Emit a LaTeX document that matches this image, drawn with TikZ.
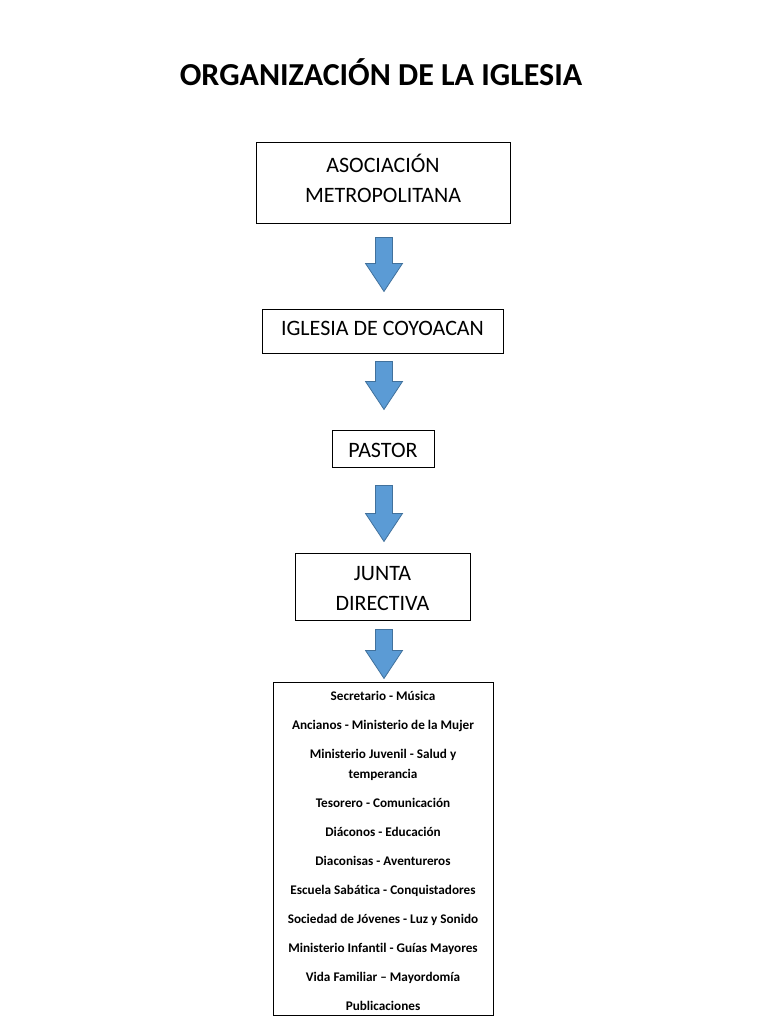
\documentclass[tikz,border=0pt]{standalone}
\usepackage{fontspec}
\setmainfont{Carlito}[Ligatures={TeX,NoCommon}]
\usetikzlibrary{calc}
\definecolor{arrowfill}{HTML}{5B9BD5}
\definecolor{arrowborder}{HTML}{41719C}
\tikzset{
  basic/.style = {draw, rectangle, line width=0.9pt, align=center, inner sep=0pt},
  bigbox/.style = {basic, font=\fontsize{22}{30}\selectfont},
  listbox/.style = {basic, font=\bfseries\fontsize{13.2}{20}\selectfont},
  heading/.style = {font=\bfseries\fontsize{32}{38}\selectfont},
  pics/downarrow/.style = {code={
    \draw[line width=0.8pt, draw=arrowborder, fill=arrowfill]
      (-8.5,0) -- (8.5,0) -- (8.5,#1-28) -- (18.5,#1-28) -- (0,#1)
      -- (-18.5,#1-28) -- (-8.5,#1-28) -- cycle;
  }},
}

\begin{document}
\begin{tikzpicture}[x=1pt, y=-1pt]
 \useasboundingbox (0,0) rectangle (768,1024);

 \node[heading, anchor=base] (title) at (381,86) {ORGANIZACIÓN DE LA IGLESIA};

 \node[bigbox, minimum width=254pt, minimum height=81pt] (asoc) at (383,182.5)
   {ASOCIACIÓN\\METROPOLITANA\rule[-8pt]{0pt}{0pt}};
 \node[bigbox, minimum width=241pt, minimum height=44pt] (iglesia) at (382.5,331)
   {IGLESIA DE COYOACAN\rule[-6pt]{0pt}{0pt}};
 \node[bigbox, minimum width=102pt, minimum height=37pt] (pastor) at (383,448.5)
   {\rule{0pt}{19pt}PASTOR};
 \node[bigbox, minimum width=175pt, minimum height=67pt] (junta) at (382.5,586.5)
   {\rule{0pt}{18pt}JUNTA\\DIRECTIVA};
 \node[listbox, minimum width=220pt, minimum height=333pt] (ministerios) at (383,848.5)
   {\rule{0pt}{14pt}Secretario - Música\\[9pt]
    Ancianos - Ministerio de la Mujer\\[9pt]
    Ministerio Juvenil - Salud y\\temperancia\\[9pt]
    Tesorero - Comunicación\\[9pt]
    Diáconos - Educación\\[9pt]
    Diaconisas - Aventureros\\[9pt]
    Escuela Sabática - Conquistadores\\[9pt]
    Sociedad de Jóvenes - Luz y Sonido\\[9pt]
    Ministerio Infantil - Guías Mayores\\[9pt]
    Vida Familiar – Mayordomía\\[9pt]
    Publicaciones};

 % block arrows between the boxes
 \pic at ($(asoc.south)+(1,14)$) {downarrow=54};
 \pic at ($(iglesia.south)+(1.5,8)$) {downarrow=48};
 \pic at ($(pastor.south)+(1,18)$) {downarrow=56};
 \pic at ($(junta.south)+(1.5,9)$) {downarrow=49};

\end{tikzpicture}
\end{document}
